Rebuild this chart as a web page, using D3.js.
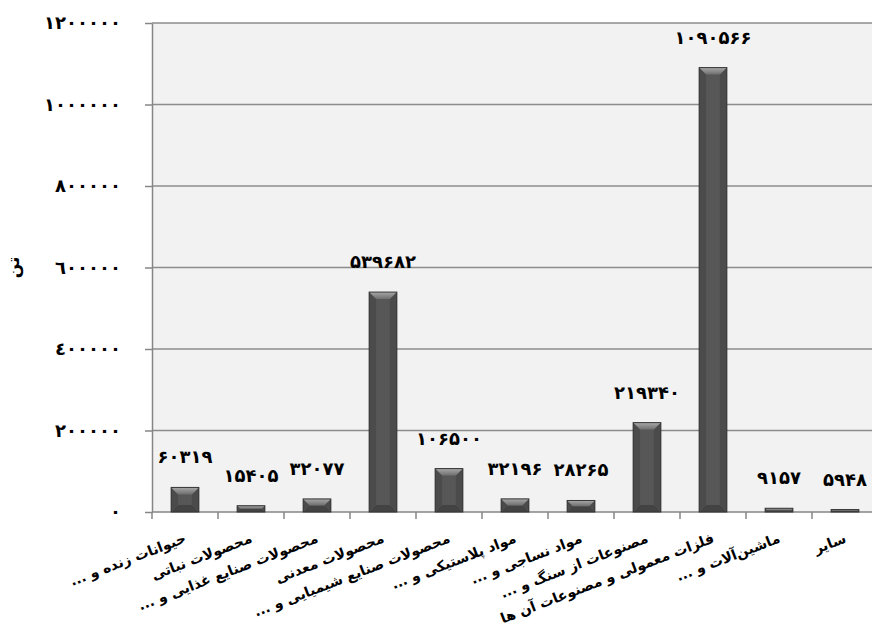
<!DOCTYPE html>
<html>
<head>
<meta charset="utf-8">
<script src="https://cdn.jsdelivr.net/npm/d3@7"></script>
<style>
  body { margin: 0; background: #fff; }
  text { font-family: "DejaVu Sans", sans-serif; font-weight: bold; }
</style>
</head>
<body>
<script>
// chart data
const categories = [
    "حیوانات زنده و ...",
    "محصولات نباتی",
    "محصولات صنایع غذایی و ...",
    "محصولات معدنی",
    "محصولات صنایع شیمیایی و ...",
    "مواد پلاستیکی و ...",
    "مواد نساجی و ...",
    "مصنوعات از سنگ و ...",
    "فلزات معمولی و مصنوعات آن ها",
    "ماشین‌آلات و ...",
    "سایر"
];
const values = [60319, 15405, 32077, 539682, 106500, 32196, 28265, 219340, 1090566, 9157, 5948];
const yTicks = [0, 200000, 400000, 600000, 800000, 1000000, 1200000];
const yTitle = "تن";

const width = 872;
const height = 629;
const margin = { top: 23, right: -6, bottom: 117, left: 152 };

const arabicDigits = "٠١٢٣٤٥٦٧٨٩";
const persianDigits = "۰۱۲۳۴۵۶۷۸۹";
const toArabic = n => String(n).replace(/\d/g, d => arabicDigits[d]);
const toPersian = n => String(n).replace(/\d/g, d => persianDigits[d]);

const svg = d3.select("body").append("svg")
    .attr("width", width)
    .attr("height", height);

const defs = svg.append("defs");
const topGrad = defs.append("linearGradient")
    .attr("id", "topGrad")
    .attr("x1", 0).attr("y1", 0).attr("x2", 0).attr("y2", 1);
topGrad.append("stop").attr("offset", "0%").attr("stop-color", "#a8a8a8");
topGrad.append("stop").attr("offset", "100%").attr("stop-color", "#6e6e6e");

const x = d3.scaleBand()
    .domain(categories)
    .range([margin.left, width - margin.right])
    .paddingInner(0.58)
    .paddingOuter(0.29);

const y = d3.scaleLinear()
    .domain([0, 1200000])
    .range([height - margin.bottom, margin.top]);

const x0 = margin.left;
const x1 = width - margin.right;
const yBase = y(0);

// plot background
svg.append("rect")
    .attr("x", x0)
    .attr("y", y(1200000))
    .attr("width", x1 - x0)
    .attr("height", yBase - y(1200000))
    .attr("fill", "#f2f2f2");

// gridlines
svg.append("g")
    .selectAll("line")
    .data(yTicks.filter(d => d > 0))
    .join("line")
    .attr("x1", x0)
    .attr("x2", x1)
    .attr("y1", d => y(d))
    .attr("y2", d => y(d))
    .attr("stroke", "#8c8c8c")
    .attr("stroke-width", 1.5);

// y axis
const yAxis = svg.append("g")
    .attr("transform", `translate(${x0},0)`)
    .call(d3.axisLeft(y)
        .tickValues(yTicks)
        .tickFormat(toArabic)
        .tickSizeInner(7)
        .tickSizeOuter(0)
        .tickPadding(24));
yAxis.select(".domain").attr("stroke", "#868686").attr("stroke-width", 1.5);
yAxis.selectAll(".tick line").attr("stroke", "#868686").attr("stroke-width", 1.5);
yAxis.selectAll(".tick text")
    .attr("font-size", 18)
    .attr("fill", "#000")
    .style("font-family", "DejaVu Sans")
    .style("font-weight", "bold");

// x axis line and ticks at category boundaries
const step = x.step();
const boundaries = categories.map(c => x(c) - (step - x.bandwidth()) / 2);
boundaries.push(boundaries[boundaries.length - 1] + step);

svg.append("line")
    .attr("x1", x0)
    .attr("x2", x1)
    .attr("y1", yBase)
    .attr("y2", yBase)
    .attr("stroke", "#868686")
    .attr("stroke-width", 1.5);

svg.append("g")
    .selectAll("line")
    .data(boundaries)
    .join("line")
    .attr("x1", d => d)
    .attr("x2", d => d)
    .attr("y1", yBase)
    .attr("y2", yBase + 7)
    .attr("stroke", "#868686")
    .attr("stroke-width", 1.5);

// bars with a bevel
const bars = svg.append("g")
    .selectAll("g")
    .data(categories.map((c, i) => ({ c, v: values[i] })))
    .join("g");

bars.each(function(d) {
    const g = d3.select(this);
    const bx = x(d.c);
    const bw = x.bandwidth();
    const by = y(d.v);
    const bh = yBase - by;
    const b = Math.min(7, bh / 2, bw / 2);

    g.append("rect")
        .attr("x", bx).attr("y", by)
        .attr("width", bw).attr("height", bh)
        .attr("fill", "#575757");
    g.append("polygon")
        .attr("points", [[bx, by + bh], [bx + b, by + bh - b], [bx + bw - b, by + bh - b], [bx + bw, by + bh]].join(" "))
        .attr("fill", "#434343");
    g.append("polygon")
        .attr("points", [[bx, by], [bx + b, by + b], [bx + b, by + bh - b], [bx, by + bh]].join(" "))
        .attr("fill", "#4b4b4b");
    g.append("polygon")
        .attr("points", [[bx + bw, by], [bx + bw - b, by + b], [bx + bw - b, by + bh - b], [bx + bw, by + bh]].join(" "))
        .attr("fill", "#4b4b4b");
    g.append("polygon")
        .attr("points", [[bx, by], [bx + bw, by], [bx + bw - b, by + b], [bx + b, by + b]].join(" "))
        .attr("fill", "url(#topGrad)");
    g.append("rect")
        .attr("x", bx).attr("y", by)
        .attr("width", bw).attr("height", bh)
        .attr("fill", "none")
        .attr("stroke", "#363636")
        .attr("stroke-width", 1);
});

// value labels
svg.append("g")
    .selectAll("text")
    .data(categories.map((c, i) => ({ c, v: values[i] })))
    .join("text")
    .attr("x", d => x(d.c) + x.bandwidth() / 2)
    .attr("y", d => y(d.v) - 24)
    .attr("text-anchor", "middle")
    .attr("font-size", 18)
    .attr("fill", "#000")
    .text(d => toPersian(d.v));

// category labels, rotated; in rtl "start" is the right-hand end
svg.append("g")
    .selectAll("text")
    .data(categories)
    .join("text")
    .attr("transform", d => `translate(${x(d) + x.bandwidth() / 2 + 2},${yBase + 30}) rotate(-21)`)
    .attr("text-anchor", "start")
    .attr("direction", "rtl")
    .attr("font-size", 14)
    .attr("fill", "#000")
    .text(d => d);

// y axis title
svg.append("text")
    .attr("transform", `translate(19,${y(600000)}) rotate(-90)`)
    .attr("text-anchor", "middle")
    .attr("font-size", 17)
    .attr("fill", "#000")
    .text(yTitle);
</script>
</body>
</html>
